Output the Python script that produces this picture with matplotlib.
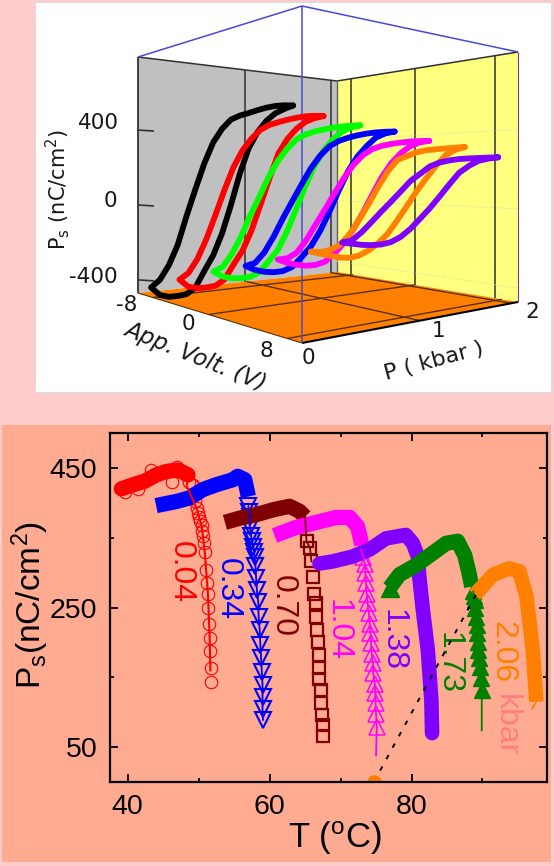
#!/usr/bin/env python
import numpy as np
import matplotlib
matplotlib.use('Agg')
import matplotlib.pyplot as plt
from matplotlib.patches import Rectangle, Polygon

plt.rcParams['font.family'] = ['Liberation Sans', 'DejaVu Sans']
plt.rcParams['mathtext.fontset'] = 'custom'
plt.rcParams['mathtext.rm'] = 'Liberation Sans'
plt.rcParams['mathtext.it'] = 'Liberation Sans'

# hysteresis loops (top panel)
volt_up = [8,7,6,5,4,3,2,1,0,-1,-2,-3,-4,-5,-6,-7,-8]
volt_down = [-8,-7,-6,-5,-4,-3,-2,-1,0,1,2,3,4,5,6,7,8]
loop_p = [0.04,0.34,0.70,1.04,1.38,1.73,2.06]
loop_col = ['black','#FF0000','#00FF00','#0000FF','#FF00FF','#FF8000','#8000FF']

ps_up_0 = [415,420,422,420,415,408,402,390,355,300,210,95,-30,-170,-275,-355,-405]
ps_dn_0 = [-405,-430,-426,-410,-390,-349,-266,-190,-90,33,164,266,328,369,394,406,415]
ps_up_1 = [385,390,392,390,386,380,372,355,320,270,195,90,-30,-150,-255,-335,-380]
ps_dn_1 = [-380,-404,-400,-385,-366,-327,-250,-180,-85,31,146,250,308,346,370,381,385]
ps_up_2 = [360,362,362,360,356,350,340,320,280,225,150,55,-40,-150,-245,-320,-355]
ps_dn_2 = [-355,-370,-369,-358,-342,-310,-250,-190,-100,5,110,200,265,310,340,355,360]
ps_up_3 = [345,347,347,345,340,332,320,298,255,195,115,30,-60,-160,-250,-315,-340]
ps_dn_3 = [-340,-352,-352,-345,-330,-300,-245,-185,-105,-10,90,180,245,290,325,340,345]
ps_up_4 = [315,316,316,314,310,303,290,262,215,150,70,-15,-100,-190,-265,-305,-320]
ps_dn_4 = [-320,-330,-332,-328,-315,-290,-240,-180,-105,-20,70,155,220,265,295,310,315]
ps_up_5 = [296,295,293,291,288,280,262,244,185,103,10,-80,-165,-230,-265,-285,-290]
ps_dn_5 = [-290,-295,-298,-300,-295,-275,-240,-195,-140,-65,10,85,150,210,260,285,296]
ps_up_6 = [255,255,254,253,251,245,235,215,175,135,75,15,-45,-110,-175,-230,-250]
ps_dn_6 = [-250,-250,-250,-245,-235,-215,-180,-130,-70,-10,55,120,180,215,240,250,255]
loop_up = [ps_up_0,ps_up_1,ps_up_2,ps_up_3,ps_up_4,ps_up_5,ps_up_6]
loop_dn = [ps_dn_0,ps_dn_1,ps_dn_2,ps_dn_3,ps_dn_4,ps_dn_5,ps_dn_6]

# Ps vs T (bottom panel): plateau part, then the falling part
red_top_t = [39.1,40.8,42.4,44.0,45.5,47.1,48.5]
red_top_p = [420,426,431,440,445,447,440]
red_open_t = [43.3,47.0,46.2,48.6,39.6,41.5,49.0]
red_open_p = [447,452,430,430,416,420,425]
red_fall_t = [49.2,49.5,49.7,49.9,50.0,50.2,50.4,50.5,50.6,50.7,50.85,51.1,51.2,51.3,51.3,51.5,51.55,51.55,51.7,51.7]
red_fall_p = [426,403,392,386,380,374,368,360,352,342,330,304,285,270,249,227,207,187,163,143]
red_line_t = [48.5,49.7,50.4,50.85,51.3,51.55,51.65]
red_line_p = [420,392,368,330,270,207,160]

blue_top_t = [44.0,46.9,48.7,50.6,52.5,54.8,55.5,56.5,57.0]
blue_top_p = [396,402,407,419,426,433,438,433,409]
blue_fall_t = [57.0,57.1,57.2,57.2,57.4,57.5,57.7,57.8,57.9,58.0,58.1,58.2,58.4,58.45,58.6,58.7,58.8,58.9,59.0,59.0,59.0,59.06]
blue_fall_p = [395,387,380,366,352,345,337,330,323,309,292,275,258,237,218,196,177,158,139,122,105,89]

brown_top_t = [53.7,55.8,58.1,60.5,62.8,64.2,65.0]
brown_top_p = [372,378,383,390,395,388,380]
brown_fall_t = [65.2,65.7,65.9,66.1,66.3,66.5,66.6,66.7,66.8,66.9,67.0,67.0,67.2,67.2,67.4,67.5,67.5]
brown_fall_p = [345,335,316,294,270,256,237,218,201,182,163,148,132,113,96,82,66]

mag_top_t = [60.7,63.5,67.0,69.4,71.3,72.4,73.0]
mag_top_p = [353,364,373,379,379,366,340]
mag_fall_t = [72.9,73.2,73.4,73.5,73.6,73.7,73.8,74.0,74.1,74.2,74.3,74.4,74.55,74.6,74.8,74.9,74.93,75.0,75.1]
mag_fall_p = [333,323,313,299,285,270,256,242,227,213,199,184,170,156,141,127,113,98,79]
mag_stem = [75.0,38]

pur_t = [67.04,68.9,71.7,74.1,76.4,79.2,80.2,80.9,81.1,81.6,82.3,82.8,82.9]
pur_p = [313,316,323,333,349,354,342,323,294,247,189,117,70]

green_top_t = [76.9,78.3,80.7,83.0,84.9,86.5,87.5,88.0,88.5]
green_top_p = [278,297,311,328,342,345,325,304,280]
green_fall_t = [88.7,88.8,88.9,89.0,89.1,89.2,89.3,89.35,89.4,89.5,89.6,89.75,89.9]
green_fall_p = [273,267,261,249,237,225,213,201,189,177,165,149,132]
green_stem = [89.9,74]

orange_t = [88.9,91.5,93.8,95.2,96.2,97.1,97.6]
orange_p = [268,297,306,302,266,189,115]
orange_stem = [97.0,105]

dash_t = [74.7,89.6]
dash_p = [0,278]

xticks = [40,60,80]
xminor = [50,70,90]
yticks = [50,250,450]
yminor = [150,350]

fig = plt.figure(figsize=(5.54,8.66), dpi=100, facecolor='#FFCCCC')

# page background, in pixel coordinates
bg = fig.add_axes([0,0,1,1])
bg.set_xlim(0,554)
bg.set_ylim(866,0)
bg.axis('off')
bg.add_patch(Rectangle((35,2),516,390,fc='white',ec='#D8DCE8',lw=0.8))
bg.add_patch(Rectangle((2,425),549,437,fc='#FFAB91',ec='none'))

# corners of the 3d box, as seen on the page
left_b = np.array([138,293.]); left_t = np.array([138,57.])
front_b = np.array([302,343.]); front_t = np.array([302,6.])
right_b = np.array([518,302.]); right_t = np.array([518,52.])
back_b = np.array([337,272.]); back_t = np.array([337,81.])

def box(u,v,w):
	bot = (1-u)*(1-v)*left_b + u*(1-v)*front_b + u*v*right_b + (1-u)*v*back_b
	top = (1-u)*(1-v)*left_t + u*(1-v)*front_t + u*v*right_t + (1-u)*v*back_t
	return (1-w)*bot + w*top

def proj(V,P,Ps):
	u = 0.13 + 0.87*(np.asarray(V,float)+8)/16
	v = -0.06 + 0.47*P
	w = (np.asarray(Ps,float)+470)/1260
	pts = [box(a,v,c) for a,c in zip(u,w)]
	return np.array(pts)

bg.add_patch(Polygon([left_b,back_b,back_t,left_t],fc='#C0C0C0',ec='none'))
bg.add_patch(Polygon([back_b,right_b,right_t,back_t],fc='#FFFF80',ec='none'))
bg.add_patch(Polygon([left_b,front_b,right_b,back_b],fc='#FF8000',ec='none'))

def seg(a,b,c='#303030',lw=1.1,**kw):
	bg.plot([a[0],b[0]],[a[1],b[1]],color=c,lw=lw,solid_capstyle='butt',**kw)

for v in [0.54,0.97]:
	seg(box(0,v,0),box(0,v,1))
for v in [0.08,0.43,0.875]:
	seg((1-v)*back_b+v*right_b,(1-v)*back_t+v*right_t)
seg(left_b,left_t,lw=1.3)
seg(left_t,back_t,lw=1.1)
seg(back_t,right_t,lw=1.1)
seg(back_b,back_t,c='#606060',lw=1.0)
for ps in [400,0,-400]:
	w = (ps+470)/1260.
	a = box(0,0,w)
	seg(a,(a[0]+16,a[1]+1),lw=1.2)
	seg((1-w)*back_b+w*back_t,(1-w)*right_b+w*right_t,c='#D8D8B0',lw=0.8,linestyle=':')

# floor grid
for u in [0.09,0.43,0.91]:
	seg(box(u,0,0),box(u,1,0),c='#5A3000',lw=1.0)
for v in [0.546,0.97]:
	seg(box(0,v,0),box(1,v,0),c='#5A3000',lw=1.0)
seg(front_b,right_b,c='black',lw=1.5)
seg(left_b,front_b,c='#5A3000',lw=0.8)

# blue outline of the box
for a,b in [(left_t,front_t),(front_t,right_t),(front_t,front_b)]:
	seg(a,b,c='#4848D8',lw=1.1)
seg(right_t,right_b,c='#505090',lw=0.8)

for p,col,up,dn in zip(loop_p,loop_col,loop_up,loop_dn):
	a = proj(volt_up,p,up)
	b = proj(volt_down,p,dn)
	xy = np.vstack([a,b])
	bg.plot(xy[:,0],xy[:,1],color=col,lw=4.2,solid_joinstyle='round',solid_capstyle='round')

dj = dict(family='DejaVu Sans',color='#181818',ha='center',va='center')
bg.text(98,123,'400',fontsize=15.5,**dj)
bg.text(110,201,'0',fontsize=15.5,**dj)
bg.text(93,277,'-400',fontsize=15.5,**dj)
bg.text(127,305,'-8',fontsize=15.5,**dj)
bg.text(188,324,'0',fontsize=15.5,**dj)
bg.text(266,351,'8',fontsize=15.5,**dj)
bg.text(308,358,'0',fontsize=15.5,**dj)
bg.text(438,331,'1',fontsize=15.5,**dj)
bg.text(532,312,'2',fontsize=15.5,**dj)
plt.rcParams['mathtext.fontset'] = 'dejavusans'
bg.text(58,190,'P$_{\\mathrm{s}}$ (nC/cm$^{2}$)',rotation=90,fontsize=15,**dj)
bg.text(195,357,'App. Volt. (V)',rotation=-22,fontsize=16.5,style='italic',rotation_mode='anchor',**dj)
bg.text(434,361,'P ( kbar )',rotation=15,fontsize=16,rotation_mode='anchor',**dj)

# bottom panel
ax = fig.add_axes([110/554.,(866-782)/866.,437/554.,349/866.])
ax.patch.set_alpha(0)
ax.set_xlim(37.5,99.1)
ax.set_ylim(0,500)
for s in ax.spines.values():
	s.set_linewidth(1.6)
ax.set_xticks(xticks)
ax.set_xticks(xminor,minor=True)
ax.set_yticks(yticks)
ax.set_yticks(yminor,minor=True)
ax.tick_params(which='major',direction='in',length=6,width=1.3,top=True,right=True,labelsize=20.5,pad=9)
ax.tick_params(which='minor',direction='in',length=3,width=1.3,top=True,right=True)

thick = 11
ax.plot(red_top_t,red_top_p,color='#FF0000',lw=thick,solid_capstyle='round')
ax.plot(red_open_t,red_open_p,ls='none',marker='o',ms=9,mfc='none',mec='#FF0000',mew=0.8)
ax.plot(red_fall_t,red_fall_p,ls='none',marker='o',ms=9,mfc='none',mec='#FF0000',mew=0.8)

ax.plot(blue_top_t,blue_top_p,color='#0000FF',lw=thick,solid_capstyle='butt')
ax.plot(blue_fall_t,blue_fall_p,ls='none',marker='v',ms=11.5,mfc='none',mec='#0000FF',mew=1.5)

ax.plot(brown_top_t,brown_top_p,color='#7F0000',lw=thick,solid_capstyle='butt')
ax.plot(brown_fall_t,brown_fall_p,ls='none',marker='s',ms=8.5,mfc='none',mec='#7F0000',mew=1.6)

ax.plot(mag_top_t,mag_top_p,color='#FF00FF',lw=thick,solid_capstyle='butt')
ax.plot(mag_fall_t,mag_fall_p,ls='none',marker='^',ms=11.5,mfc='none',mec='#FF00FF',mew=1.1)

ax.plot(pur_t,pur_p,color='#8000FF',lw=10.5,solid_capstyle='round')

ax.plot(green_top_t,green_top_p,color='#008000',lw=thick,solid_capstyle='butt')
ax.plot(green_top_t[:1],green_top_p[:1],ls='none',marker='^',ms=13,mfc='#008000',mec='#008000')
ax.plot(green_fall_t,green_fall_p,ls='none',marker='^',ms=11.5,mfc='#008000',mec='#008000')

ax.plot(orange_t,orange_p,color='#FF8000',lw=10.5,solid_capstyle='butt')

# thin connecting lines sit on top of the later bands
ax.plot(red_line_t,red_line_p,color='#FF0000',lw=1.5)
ax.plot(blue_fall_t,blue_fall_p,color='#0000FF',lw=1.3)
ax.plot([brown_top_t[-1]]+brown_fall_t[:3],[brown_top_p[-1]]+brown_fall_p[:3],color='#7F0000',lw=1.3)
ax.plot(mag_fall_t+mag_stem[:1],mag_fall_p+mag_stem[1:],color='#FF00FF',lw=1.3)
ax.plot(green_fall_t+green_stem[:1],green_fall_p+green_stem[1:],color='#008000',lw=1.3)
ax.plot(orange_t[-1:]+orange_stem[:1],orange_p[-1:]+orange_stem[1:],color='#FF8000',lw=1.3)

ax.plot(dash_t,dash_p,color='black',lw=1.4,dashes=(2.4,4.3))
ax.plot(dash_t[:1],dash_p[:1],ls='none',marker='o',ms=9.5,color='#FF8000',clip_on=True)

plt.rcParams['mathtext.fontset'] = 'custom'
lb = dict(rotation=-90,ha='center',va='center',fontsize=23)
bg.text(181,572,'0.04',color='#FF0000',**lb)
bg.text(228,589,'0.34',color='#0000FF',**lb)
bg.text(283,606,'0.70',color='#7F0000',**lb)
bg.text(338,630,'1.04',color='#FF00FF',**lb)
bg.text(393,640,'1.38',color='#8000FF',**lb)
bg.text(449,663,'1.73',color='#008000',**lb)
bg.text(502,652,'2.06',color='#FF8000',**lb)
bg.text(506,725,'kbar',color='#FF7F7F',**lb)

bg.text(30,605,'P$_{\\mathrm{s}}$(nC/cm$^{2}$)',rotation=90,ha='center',va='center',fontsize=24)
bg.text(335,838,'T ($^{\\mathrm{o}}$C)',ha='center',va='center',fontsize=25)

fig.savefig('out.png',dpi=100,facecolor=fig.get_facecolor())
